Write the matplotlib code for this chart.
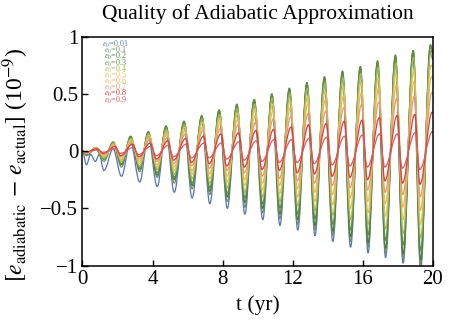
import matplotlib
matplotlib.use("Agg")
import matplotlib.pyplot as plt
from matplotlib.path import Path
from matplotlib.patches import PathPatch

plt.rcParams["font.family"] = ["Liberation Serif", "DejaVu Serif"]
plt.rcParams["mathtext.fontset"] = "stix"

# times of the extrema (yr)
t_trough = [0.23, 1.23, 2.23, 3.27, 4.27, 5.24, 6.26, 7.27, 8.27, 9.27,
            10.29, 11.27, 12.29, 13.27, 14.29, 15.30, 16.30, 17.30, 18.30, 19.30]
t_peak = [0.74, 1.75, 2.74, 3.75, 4.76, 5.79, 6.80, 7.79, 8.80, 9.79,
          10.80, 11.80, 12.80, 13.80, 14.83, 15.85, 16.83, 17.85, 18.86, 19.85]

labels = ["0.01", "0.1", "0.2", "0.3", "0.4", "0.5", "0.6", "0.7", "0.8", "0.9"]
colors = ["#5875ad", "#6e8f73", "#4c7c3a", "#638f3c", "#a6b753",
          "#dcc353", "#e9b65c", "#e29a70", "#d23f3b", "#d95b5b"]

# per-series lag of troughs / peaks relative to the times above (yr)
trough_shift = [0.0, 0.0, 0.0, 0.0, 0.0, -0.01, -0.02, -0.03, -0.04, -0.05]
peak_shift = [0.0, 0.0, 0.01, 0.02, 0.03, 0.05, 0.07, 0.09, 0.11, 0.13]

troughs_001 = [-0.12, -0.17, -0.22, -0.27, -0.31, -0.36, -0.41, -0.46, -0.50, -0.55,
               -0.60, -0.65, -0.69, -0.74, -0.79, -0.84, -0.89, -0.93, -0.98, -1.03]
peaks_001 = [-0.09, 0.02, 0.08, 0.13, 0.18, 0.22, 0.27, 0.32, 0.36, 0.41,
             0.45, 0.50, 0.55, 0.59, 0.64, 0.69, 0.73, 0.78, 0.83, 0.87]
# small extra wiggle of the e0=0.01 curve in its first cycle
bump_t_001 = [0.47, 0.96]
bump_v_001 = [-0.03, -0.03]

troughs_01 = [-0.04, -0.09, -0.14, -0.18, -0.23, -0.28, -0.33, -0.38, -0.44, -0.49,
              -0.54, -0.59, -0.64, -0.69, -0.74, -0.79, -0.84, -0.89, -0.94, -0.99]
peaks_01 = [0.02, 0.07, 0.11, 0.16, 0.20, 0.25, 0.30, 0.35, 0.39, 0.44,
            0.49, 0.54, 0.58, 0.63, 0.68, 0.73, 0.77, 0.82, 0.87, 0.92]

troughs_02 = [-0.03, -0.07, -0.12, -0.16, -0.21, -0.25, -0.30, -0.35, -0.40, -0.45,
              -0.50, -0.55, -0.60, -0.65, -0.70, -0.75, -0.80, -0.85, -0.90, -0.95]
peaks_02 = [0.03, 0.08, 0.13, 0.17, 0.22, 0.26, 0.31, 0.36, 0.41, 0.45,
            0.50, 0.55, 0.60, 0.65, 0.70, 0.74, 0.79, 0.84, 0.88, 0.93]

troughs_03 = [-0.03, -0.07, -0.11, -0.15, -0.19, -0.23, -0.28, -0.32, -0.37, -0.41,
              -0.46, -0.50, -0.55, -0.59, -0.64, -0.69, -0.73, -0.78, -0.82, -0.87]
peaks_03 = [0.03, 0.07, 0.12, 0.16, 0.21, 0.25, 0.30, 0.35, 0.40, 0.45,
            0.49, 0.54, 0.59, 0.64, 0.69, 0.73, 0.78, 0.83, 0.88, 0.92]

troughs_04 = [-0.02, -0.06, -0.09, -0.13, -0.16, -0.20, -0.24, -0.28, -0.32, -0.36,
              -0.40, -0.44, -0.48, -0.52, -0.56, -0.60, -0.64, -0.68, -0.72, -0.76]
peaks_04 = [0.03, 0.07, 0.11, 0.15, 0.19, 0.23, 0.28, 0.32, 0.37, 0.41,
            0.46, 0.50, 0.55, 0.59, 0.64, 0.68, 0.73, 0.77, 0.82, 0.86]

troughs_05 = [-0.02, -0.05, -0.08, -0.11, -0.14, -0.17, -0.20, -0.24, -0.27, -0.30,
              -0.34, -0.37, -0.40, -0.44, -0.47, -0.50, -0.54, -0.57, -0.60, -0.64]
peaks_05 = [0.03, 0.06, 0.10, 0.14, 0.17, 0.21, 0.25, 0.29, 0.33, 0.37,
            0.41, 0.44, 0.48, 0.52, 0.56, 0.60, 0.64, 0.68, 0.71, 0.75]

troughs_06 = [-0.02, -0.04, -0.07, -0.09, -0.12, -0.14, -0.17, -0.20, -0.22, -0.25,
              -0.28, -0.30, -0.33, -0.36, -0.38, -0.41, -0.44, -0.46, -0.49, -0.52]
peaks_06 = [0.02, 0.05, 0.08, 0.12, 0.15, 0.18, 0.21, 0.25, 0.28, 0.31,
            0.35, 0.38, 0.41, 0.45, 0.48, 0.51, 0.55, 0.58, 0.61, 0.65]

troughs_07 = [-0.01, -0.03, -0.05, -0.07, -0.09, -0.11, -0.13, -0.15, -0.17, -0.19,
              -0.22, -0.24, -0.26, -0.28, -0.30, -0.32, -0.34, -0.36, -0.38, -0.40]
peaks_07 = [0.02, 0.05, 0.07, 0.10, 0.12, 0.15, 0.18, 0.20, 0.23, 0.25,
            0.28, 0.30, 0.33, 0.35, 0.38, 0.41, 0.43, 0.46, 0.48, 0.51]

troughs_08 = [-0.01, -0.02, -0.04, -0.05, -0.07, -0.08, -0.10, -0.11, -0.13, -0.14,
              -0.16, -0.17, -0.19, -0.20, -0.22, -0.23, -0.25, -0.26, -0.28, -0.29]
peaks_08 = [0.02, 0.04, 0.06, 0.07, 0.09, 0.11, 0.13, 0.15, 0.16, 0.18,
            0.19, 0.21, 0.23, 0.24, 0.26, 0.27, 0.29, 0.31, 0.32, 0.34]

troughs_09 = [-0.01, -0.01, -0.02, -0.03, -0.04, -0.05, -0.06, -0.06, -0.07, -0.08,
              -0.09, -0.10, -0.10, -0.11, -0.12, -0.13, -0.14, -0.14, -0.15, -0.16]
peaks_09 = [0.01, 0.02, 0.03, 0.04, 0.05, 0.06, 0.07, 0.07, 0.08, 0.09,
            0.10, 0.10, 0.11, 0.12, 0.13, 0.14, 0.15, 0.15, 0.16, 0.17]

# value of each curve at t = 20
end_vals = [0.80, 0.85, 0.86, 0.86, 0.82, 0.73, 0.63, 0.50, 0.34, 0.17]

troughs = [troughs_001, troughs_01, troughs_02, troughs_03, troughs_04,
           troughs_05, troughs_06, troughs_07, troughs_08, troughs_09]
peaks = [peaks_001, peaks_01, peaks_02, peaks_03, peaks_04,
         peaks_05, peaks_06, peaks_07, peaks_08, peaks_09]


def smooth_path(ts, vs, k=0.36):
    # cubic pieces with flat tangents at every extremum
    verts = [(ts[0], vs[0])]
    codes = [Path.MOVETO]
    for a in range(1, len(ts)):
        dt = ts[a] - ts[a - 1]
        verts += [(ts[a - 1] + k * dt, vs[a - 1]), (ts[a] - k * dt, vs[a]), (ts[a], vs[a])]
        codes += [Path.CURVE4] * 3
    return Path(verts, codes)


fig = plt.figure(figsize=(4.63, 3.27), dpi=100)
ax = fig.add_axes([0.178, 0.188, 0.757, 0.700])

for i in range(len(labels)):
    ts, vs = [0.0], [0.0]
    for k in range(len(t_trough)):
        ts.append(t_trough[k] + trough_shift[i])
        vs.append(troughs[i][k])
        if i == 0 and k == 0:
            ts += [bump_t_001[0], t_peak[0], bump_t_001[1]]
            vs += [bump_v_001[0], peaks[i][0], bump_v_001[1]]
        else:
            ts.append(t_peak[k] + peak_shift[i])
            vs.append(peaks[i][k])
    ts.append(20.0)
    vs.append(end_vals[i])
    ax.add_patch(PathPatch(smooth_path(ts, vs), fill=False, edgecolor=colors[i], lw=0.9))

ax.set_xlim(0, 20)
ax.set_ylim(-1, 1)
ax.set_xticks([0, 4, 8, 12, 16, 20])
ax.set_yticks([-1, -0.5, 0, 0.5, 1])
ax.set_yticklabels(["\u22121", "\u22120.5", "0", "0.5", "1"])
ax.tick_params(direction="in", length=4, width=1, labelsize=15, pad=3)
for s in ax.spines.values():
    s.set_linewidth(1.1)

ax.set_title("Quality of Adiabatic Approximation", fontsize=15.5, pad=13)
ax.set_xlabel("t (yr)", fontsize=15.5, labelpad=5)
ax.set_ylabel(r"$[e_{\rm adiabatic}\,-\,e_{\rm actual}]$ (10$^{-9}$)", fontsize=17)
ax.yaxis.set_label_coords(-0.148, 0.44)

for i, lab in enumerate(labels):
    ax.text(0.095, 0.966 - i * 0.027, r"$e_0$=" + lab, transform=ax.transAxes,
            ha="center", va="center", fontsize=5.8, color=colors[i])

fig.savefig("out.png", dpi=100)
